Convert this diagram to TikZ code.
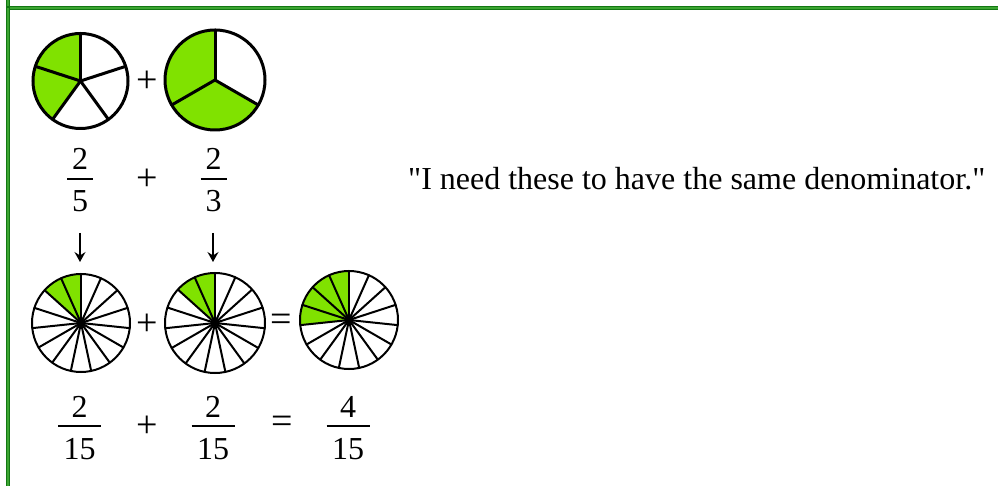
\documentclass[tikz,border=0pt]{standalone}
\usepackage{fontspec}
\setmainfont{Liberation Serif}
\newfontfamily\plainserif{Liberation Serif}
\usetikzlibrary{arrows.meta}
\definecolor{pgreen}{RGB}{128,226,0}
\definecolor{bdark}{RGB}{18,120,18}
\definecolor{blight}{RGB}{60,165,50}
\tikzset{
  txt/.style={inner sep=0pt, font=\fontsize{32}{38}\selectfont},
  op/.style={inner sep=0pt, font=\fontsize{38}{44}\selectfont},
  fbar/.style={line width=1.5pt, black},
  downarrow/.style={line width=1.3pt, -{Stealth[length=10pt,width=11pt,inset=3.5pt]}},
  frame/.style={line width=4pt, bdark, line join=miter, line cap=rect},
  framein/.style={line width=1.4pt, blight, line join=miter}
}
\newcommand\drawpie[6]{% name, center, radius, n, green, line width
  \coordinate (#1) at #2;
  \pgfmathsetmacro\pstep{360/#4}
  \fill[pgreen] (#1) -- ++(90:#3pt) arc[start angle=90, end angle={90+#5*\pstep}, radius=#3pt] -- cycle;
  \foreach \k in {1,...,#4}{\draw[line width=#6pt, line cap=round] (#1) -- ++({90+(\k-1)*\pstep}:#3pt);}
  \draw[line width=#6pt] (#1) circle[radius=#3pt];
}
\newcommand\fracnode[6]{% name, x, bar y, num, den, bar width
  \node[txt, anchor=base] (#1n) at (#2,#3+9) {#4};
  \node[txt, anchor=base] (#1d) at (#2,#3-33) {#5};
  \coordinate (#1l) at (#2-#6/2,#3);
  \coordinate (#1r) at (#2+#6/2,#3);
  \draw[fbar] (#1l) -- (#1r);
}
\begin{document}
\begin{tikzpicture}[x=1pt,y=1pt]
\useasboundingbox (0,0) rectangle (998,485);
\fill[white] (0,0) rectangle (998,485);
% frame
\draw[frame] (8,487) -- (8,477) -- (1000,477);
\draw[framein] (8,487) -- (8,477) -- (1000,477);
\draw[frame] (8,477) -- (8,-2);
\draw[framein] (8,477) -- (8,-2);
% row 1 pies
\drawpie{pa}{(80.5,404)}{47.5}{5}{2}{3}
\drawpie{pb}{(215,405)}{50}{3}{2}{3}
\node[op] (plus1) at (147,403) {+};
% row 1 fractions
\fracnode{fa}{80}{306}{2}{5}{26}
\node[op] (plus2) at (147,305) {+};
\fracnode{fb}{213.5}{306}{2}{3}{26}
% arrows
\coordinate (arra1) at (80,252);
\coordinate (arra2) at (80,223);
\coordinate (arrb1) at (213,252);
\coordinate (arrb2) at (213,223);
\draw[downarrow] (arra1) -- (arra2);
\draw[downarrow] (arrb1) -- (arrb2);
% row 2 pies
\drawpie{pc}{(81,162)}{49}{15}{2}{2}
\node[op] (plus3) at (147,160) {+};
\drawpie{pd}{(215,162)}{50}{15}{2}{2}
\node[op] (eq1) at (281,162) {=};
\drawpie{pe}{(349,165)}{49}{15}{4}{2}
% row 2 fractions
\fracnode{fc}{79.5}{59}{2}{15}{43}
\node[op] (plus4) at (147,58) {+};
\fracnode{fd}{213}{59}{2}{15}{43}
\node[op] (eq2) at (282,60) {=};
\fracnode{fe}{348}{59}{4}{15}{43}
% quote
\node[txt, font=\plainserif\fontsize{32}{38}\selectfont, anchor=base west] (quote) at (408,295) {"I need these to have the same denominator."};
\end{tikzpicture}
\end{document}
